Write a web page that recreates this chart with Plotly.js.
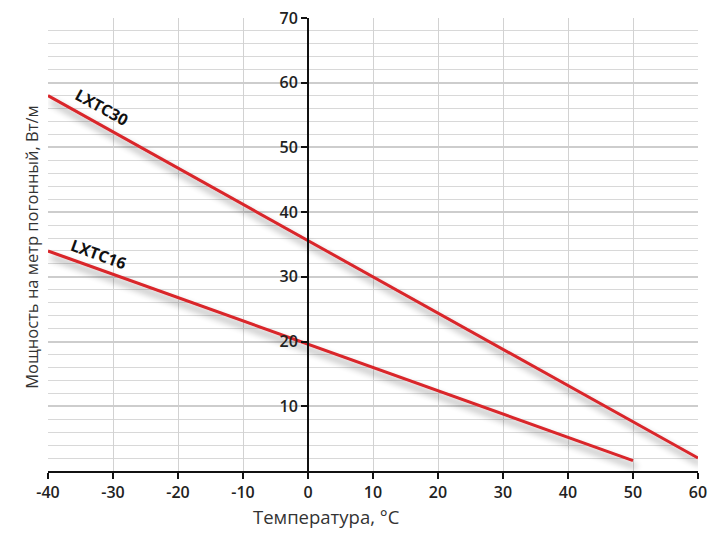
<!DOCTYPE html>
<html>
<head>
<meta charset="utf-8">
<script src="https://cdn.plot.ly/plotly-3.0.1.min.js"></script>
<style>
html,body{margin:0;padding:0;background:#fff;}
#chart{width:714px;height:535px;}
</style>
</head>
<body>
<div id="chart"></div>
<script>
// Data
const tempLXTC30 = [-40, -30, -20, -10, 0, 10, 20, 30, 40, 50, 60];
const powerLXTC30 = [58, 52.4, 46.8, 41.2, 35.6, 30, 24.4, 18.8, 13.2, 7.6, 2];
const tempLXTC16 = [-40, -30, -20, -10, 0, 10, 20, 30, 40, 50];
const powerLXTC16 = [34, 30.4, 26.8, 23.2, 19.6, 16, 12.4, 8.8, 5.2, 1.6];
const xTickVals = [-40, -30, -20, -10, 0, 10, 20, 30, 40, 50, 60];
const xTickText = ['-40', '-30', '-20', '-10', '0', '10', '20', '30', '40', '50', '60'];
const yTickVals = [10, 20, 30, 40, 50, 60, 70];
const yTickText = ['10', '20', '30', '40', '50', '60', '70'];
const seriesNames = ['LXTC30', 'LXTC16'];
const xTitle = 'Температура, °C';
const yTitle = 'Мощность на метр погонный, Вт/м';

const red = '#d9262c';
const traces = [
  {x: tempLXTC30, y: powerLXTC30, name: seriesNames[0], mode: 'lines', line: {color: red, width: 3}},
  {x: tempLXTC16, y: powerLXTC16, name: seriesNames[1], mode: 'lines', line: {color: red, width: 3}}
];

const fontFam = '"Open Sans", "DejaVu Sans", sans-serif';
const L = 48, R = 16, T = 18, B = 63.5, W = 714, H = 535;
const pw = W - L - R, ph = H - T - B;
const px2x = function(p){ return (p - L) / pw; };
const px2y = function(p){ return (H - B - p) / ph; };

const layout = {
  width: W, height: H,
  margin: {l: L, r: R, t: T, b: B},
  paper_bgcolor: '#fff', plot_bgcolor: '#fff',
  showlegend: false,
  xaxis: {
    range: [-40, 60], tickmode: 'array', tickvals: xTickVals, ticktext: xTickText,
    showgrid: true, gridcolor: '#d2d2d2', gridwidth: 1,
    zeroline: false, showline: true, linecolor: '#111', linewidth: 2,
    ticks: 'outside', ticklen: 6, tickwidth: 2, tickcolor: '#111',
    tickfont: {family: fontFam, size: 16, color: '#222', weight: 600},
    fixedrange: true
  },
  yaxis: {
    range: [0, 70], tickmode: 'array', tickvals: yTickVals, ticktext: yTickText,
    anchor: 'free', position: 0.4, side: 'left',
    showgrid: true, gridcolor: '#cdcdcd', gridwidth: 2,
    minor: {dtick: 2, showgrid: true, gridcolor: '#d8d8d8', gridwidth: 1, ticks: ''},
    zeroline: false, showline: true, linecolor: '#111', linewidth: 2,
    ticks: 'outside', ticklen: 6, tickwidth: 2, tickcolor: '#111',
    tickfont: {family: fontFam, size: 16, color: '#222', weight: 600},
    fixedrange: true
  },
  annotations: [
    {x: -31.8, y: 56.2, xref: 'x', yref: 'y', text: seriesNames[0], showarrow: false, textangle: 29,
     font: {family: fontFam, size: 16, color: '#111', weight: 700}},
    {x: -32.3, y: 33.6, xref: 'x', yref: 'y', text: seriesNames[1], showarrow: false, textangle: 20,
     font: {family: fontFam, size: 16, color: '#111', weight: 700}},
    {x: px2x(326), y: px2y(517), xref: 'paper', yref: 'paper', xanchor: 'center', yanchor: 'middle',
     text: xTitle, showarrow: false,
     font: {family: fontFam, size: 18.5, color: '#333'}},
    {x: px2x(32), y: px2y(248), xref: 'paper', yref: 'paper', xanchor: 'center', yanchor: 'middle',
     text: yTitle, showarrow: false, textangle: -90,
     font: {family: fontFam, size: 16.5, color: '#333'}}
  ]
};

Plotly.newPlot('chart', traces, layout, {displayModeBar: false, staticPlot: true}).then(function(gd){
  const svg = gd.querySelector('svg.main-svg');
  const ns = 'http://www.w3.org/2000/svg';
  let defs = svg.querySelector('defs');
  if (!defs) { defs = document.createElementNS(ns, 'defs'); svg.insertBefore(defs, svg.firstChild); }
  const f = document.createElementNS(ns, 'filter');
  f.setAttribute('id', 'lineShadow');
  f.setAttribute('x', '-20%'); f.setAttribute('y', '-20%');
  f.setAttribute('width', '140%'); f.setAttribute('height', '140%');
  f.innerHTML = '<feGaussianBlur in="SourceAlpha" stdDeviation="3.5"/>' +
    '<feOffset dx="3" dy="6" result="ob"/>' +
    '<feComponentTransfer><feFuncA type="linear" slope="0.45"/></feComponentTransfer>' +
    '<feMerge><feMergeNode/><feMergeNode in="SourceGraphic"/></feMerge>';
  defs.appendChild(f);
  gd.querySelectorAll('.scatterlayer .js-line').forEach(function(p){
    p.setAttribute('filter', 'url(#lineShadow)');
  });
});
</script>
</body>
</html>
